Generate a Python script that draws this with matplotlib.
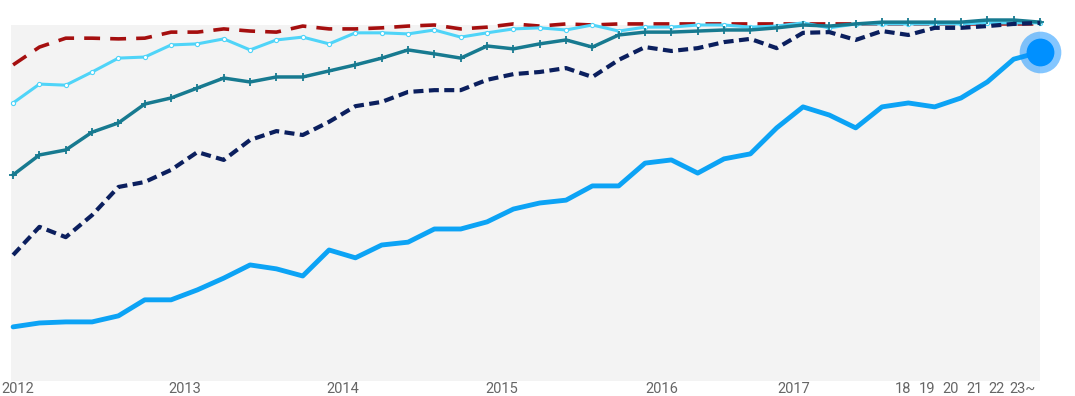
import matplotlib
matplotlib.use("Agg")
import matplotlib.pyplot as plt

# share values (%) per period
bright_blue = [15.2, 16.3, 16.6, 16.6, 18.3, 22.8, 22.8, 25.6, 28.9, 32.6,
               31.5, 29.5, 36.8, 34.6, 38.2, 39.0, 42.7, 42.7, 44.7, 48.3,
               50.0, 50.8, 54.8, 54.8, 61.2, 62.1, 58.4, 62.4, 63.8, 71.1,
               77.0, 74.7, 71.1, 77.0, 78.1, 77.0, 79.5, 84.0, 90.4, 92.4]
navy = [35.4, 43.3, 40.4, 46.6, 54.5, 55.9, 59.3, 64.3, 62.1, 67.7,
        70.2, 69.1, 72.8, 77.2, 78.4, 81.2, 81.7, 81.7, 84.6, 86.2,
        86.8, 87.9, 85.4, 90.2, 93.8, 92.7, 93.5, 95.2, 96.1, 93.5,
        97.8, 98.0, 95.8, 98.3, 97.2, 99.2, 99.2, 99.7, 100.3, 100.6]
teal = [57.9, 63.5, 64.9, 69.9, 72.5, 77.8, 79.5, 82.3, 85.1, 84.0,
        85.4, 85.4, 87.1, 88.8, 90.7, 93.0, 91.9, 90.7, 94.1, 93.3,
        94.7, 95.8, 93.8, 97.2, 98.0, 98.0, 98.3, 98.6, 98.6, 99.2,
        100.0, 99.7, 100.3, 100.8, 100.8, 100.8, 100.8, 101.4, 101.4, 100.8]
cyan = [78.1, 83.4, 83.1, 86.8, 90.7, 91.0, 94.4, 94.7, 96.1, 93.0,
        95.8, 96.6, 94.7, 97.8, 97.8, 97.5, 98.6, 96.6, 97.8, 98.9,
        99.2, 98.6, 100.0, 98.3, 99.4, 99.4, 100.0, 100.0, 99.4, 99.7,
        100.6, 99.2, 100.3, 100.3, 100.3, 100.3, 100.3, 100.6, 100.6, 100.6]
red = [88.8, 93.8, 96.3, 96.3, 96.1, 96.3, 98.0, 98.0, 98.9, 98.3,
       98.0, 99.7, 98.9, 98.9, 99.2, 99.7, 100.0, 98.9, 99.4, 100.3,
       99.7, 100.3, 100.0, 100.3, 100.3, 100.3, 100.3, 100.3, 100.3, 100.3,
       100.3, 100.3, 100.3, 100.3, 100.3, 100.3, 100.3, 100.3, 100.3, 100.3]

tick_pos = [0.17, 6.53, 12.53, 18.57, 24.65, 29.63, 33.8, 34.7, 35.6, 36.5, 37.35, 38.35]
tick_labels = ["2012", "2013", "2014", "2015", "2016", "2017",
               "18", "19", "20", "21", "22", "23~"]

x = list(range(len(bright_blue)))

fig = plt.figure(figsize=(10.75, 3.96), dpi=100)
ax = fig.add_axes([11 / 1075, 15 / 396, 1029 / 1075, 356 / 396])
ax.set_facecolor("#f3f3f3")

ax.plot(x, red, color="#a50f0f", lw=2.6, dashes=(4.4, 2.8), clip_on=False, zorder=2)
ax.plot(x, cyan, color="#4fd4f8", lw=2.2, marker="o", ms=3, mfc="white",
        mec="#4fd4f8", mew=0.8, clip_on=False, zorder=3)
ax.plot(x, teal, color="#177a90", lw=2.5, marker="+", ms=6, mew=1.3,
        clip_on=False, zorder=4)
ax.plot(x, navy, color="#0b1f5e", lw=3.0, dashes=(2.4, 1.3), clip_on=False, zorder=5)
ax.plot(x, bright_blue, color="#0ca3f5", lw=3.5, solid_capstyle="round",
        clip_on=False, zorder=6)

# highlighted last point
ax.plot(x[-1], bright_blue[-1], "o", ms=30, color="#0a8fff", alpha=0.5,
        mew=0, clip_on=False, zorder=7)
ax.plot(x[-1], bright_blue[-1], "o", ms=20, color="#0090ff", mew=0,
        clip_on=False, zorder=8)

ax.set_xlim(-0.08, 39.0)
ax.set_ylim(0, 100)
ax.set_yticks([])
ax.set_xticks(tick_pos)
ax.set_xticklabels(tick_labels, fontfamily="Roboto", fontsize=10.5, color="#666666")
ax.tick_params(axis="x", length=0, pad=0.5)
for s in ax.spines.values():
    s.set_visible(False)

fig.savefig("out.png", dpi=100)
